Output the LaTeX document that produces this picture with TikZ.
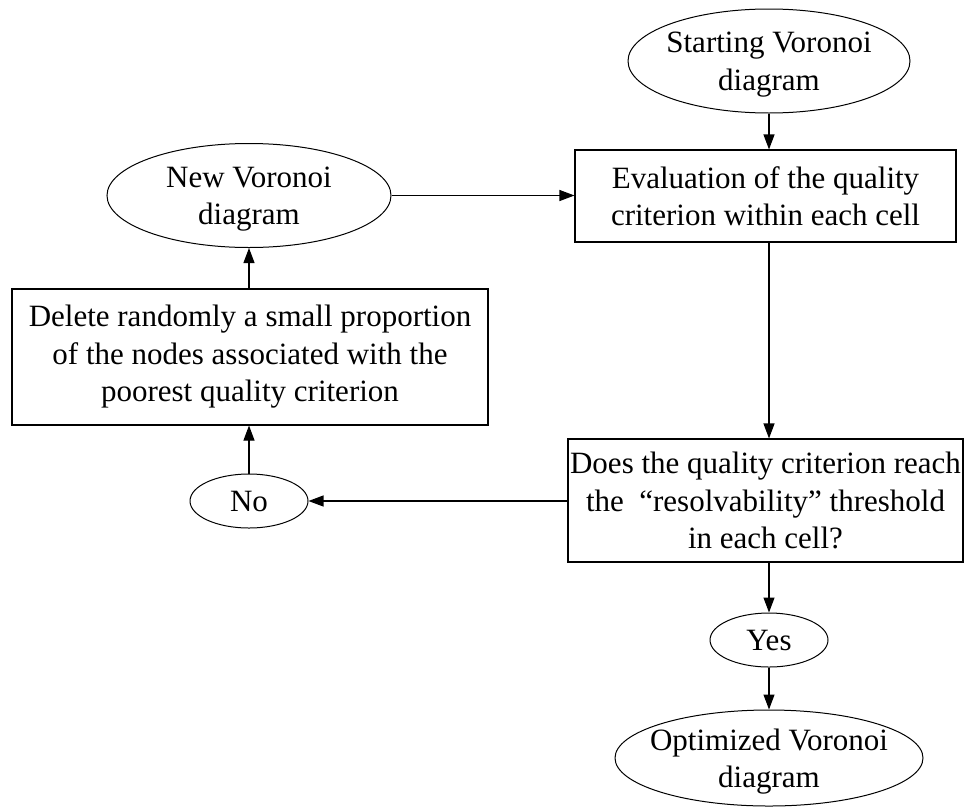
\documentclass[tikz,border=0pt]{standalone}
\usepackage{fontspec}
\setmainfont{Liberation Serif}
\usetikzlibrary{shapes.geometric,arrows.meta}
\tikzset{
  every node/.style={font=\fontsize{31}{37.5}\selectfont, align=center},
  oval/.style={draw, ellipse, inner xsep=-30pt, inner ysep=-10pt, text depth=0pt, line width=1pt},
  procbox/.style={draw, rectangle, inner sep=0pt, line width=1.1pt},
  arr/.style={-{Triangle[length=15pt,width=11pt]}, line width=1.1pt},
}
\begin{document}
\begin{tikzpicture}[x=1pt,y=-1pt]
\useasboundingbox (0,0) rectangle (965,806);
% nodes
\node[oval, minimum width=282pt, minimum height=104pt] (start) at (769,61) {Starting Voronoi\\diagram};
\node[procbox, minimum width=381pt, minimum height=92pt] (eval) at (765.5,196) {Evaluation of the quality\\criterion within each cell};
\node[oval, minimum width=284pt, minimum height=104pt] (new) at (249,195.5) {New Voronoi\\diagram};
\node[procbox, minimum width=476pt, minimum height=136pt] (del) at (250,357) {Delete randomly a small proportion\\of the nodes associated with the\\poorest quality criterion};
\node[oval, inner xsep=0pt, inner ysep=0pt, minimum width=118pt, minimum height=54pt] (no) at (249,501) {No};
\node[procbox, minimum width=395pt, minimum height=123pt] (does) at (765.5,500.5) {Does the quality criterion reach\\the\ \ “resolvability” threshold\\in each cell?};
\node[oval, inner xsep=0pt, inner ysep=0pt, minimum width=118pt, minimum height=54pt] (yes) at (769,640) {Yes};
\node[oval, minimum width=308pt, minimum height=96pt] (opt) at (769,758) {Optimized Voronoi\\diagram};
% connectors
\draw[arr] (start.south) -- (start.south |- eval.north);
\draw[arr] (new.east) -- (new.east -| eval.west);
\draw[arr] (eval.south -| start.south) -- (does.north -| start.south);
\draw[arr] (no.east -| does.west) -- (no.east);
\draw[arr] (no.north) -- (no.north |- del.south);
\draw[arr] (del.north -| new.south) -- (new.south);
\draw[arr] (does.south -| yes.north) -- (yes.north);
\draw[arr] (yes.south) -- (opt.north);
\end{tikzpicture}
\end{document}
